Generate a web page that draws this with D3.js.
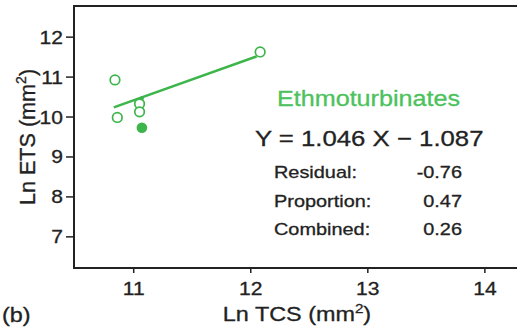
<!DOCTYPE html>
<html>
<head>
<meta charset="utf-8">
<script src="https://cdn.jsdelivr.net/npm/d3@7"></script>
<style>
  body { margin: 0; background: #fff; }
  svg { display: block; font-family: "Liberation Sans", Arial, sans-serif; }
</style>
</head>
<body>
<svg id="chart" width="517" height="327"></svg>
<script>
// data
const openX = [10.84, 10.86, 11.05, 11.05, 12.08];
const openY = [10.93, 9.99, 10.33, 10.13, 11.63];
const filledX = [11.07];
const filledY = [9.73];
const tinyX = [11.07];
const tinyY = [10.47];
const slope = 1.046, intercept = -1.087;
const fitRange = [10.83, 12.05];
const xTicks = [11, 12, 13, 14];
const yTicks = [7, 8, 9, 10, 11, 12];
const statLabels = ["Residual:", "Proportion:", "Combined:"];
const statValues = ["-0.76", "0.47", "0.26"];

const green = "#3cb54a";
const ink = "#222";
const sx = 1.17; // text in the picture is a bit wide

const svg = d3.select("#chart");
const x = d3.scaleLinear().domain([10.49, 14.3]).range([74, 520]);
const y = d3.scaleLinear().domain([6.22, 12.78]).range([268, 6]);

// little helper: text with horizontal stretch
function txt(g, px, py, s, size, anchor, fill) {
  return g.append("text")
    .attr("transform", "translate(" + px + "," + py + ") scale(" + sx + ",1)")
    .attr("text-anchor", anchor || "start")
    .attr("font-size", size)
    .attr("fill", fill || ink)
    .attr("stroke", fill || ink).attr("stroke-width", 0.3)
    .text(s);
}

// frame
svg.append("rect")
  .attr("x", x(10.49)).attr("y", y(12.78))
  .attr("width", x(14.3) - x(10.49)).attr("height", y(6.22) - y(12.78))
  .attr("fill", "none").attr("stroke", ink).attr("stroke-width", 2);

// y axis ticks
const gy = svg.append("g");
yTicks.forEach(t => {
  gy.append("line").attr("x1", x(10.49) - 8).attr("x2", x(10.49))
    .attr("y1", y(t)).attr("y2", y(t)).attr("stroke", ink).attr("stroke-width", 1.5);
  txt(gy, x(10.49) - 11, y(t) + 6.5, t, 18, "end");
});

// x axis ticks
const gx = svg.append("g");
xTicks.forEach(t => {
  gx.append("line").attr("x1", x(t)).attr("x2", x(t))
    .attr("y1", y(6.22)).attr("y2", y(6.22) + 5).attr("stroke", ink).attr("stroke-width", 1.5);
  txt(gx, x(t), 295, t, 18, "middle");
});

// axis titles
const xl = txt(svg, 297, 321, "", 20, "middle");
xl.append("tspan").text("Ln TCS (mm");
xl.append("tspan").attr("font-size", 13).attr("dy", -8).text("2");
xl.append("tspan").attr("dy", 8).text(")");

const yl = svg.append("text")
  .attr("transform", "translate(35,137) rotate(-90) scale(1.08,1.12)")
  .attr("text-anchor", "middle").attr("font-size", 20).attr("fill", ink)
  .attr("stroke", ink).attr("stroke-width", 0.3);
yl.append("tspan").text("Ln ETS (mm");
yl.append("tspan").attr("font-size", 13).attr("dy", -8).text("2");
yl.append("tspan").attr("dy", 8).text(")");

txt(svg, 2, 322, "(b)", 20, "start");

// fit line
svg.append("line")
  .attr("x1", x(fitRange[0])).attr("y1", y(slope * fitRange[0] + intercept))
  .attr("x2", x(fitRange[1])).attr("y2", y(slope * fitRange[1] + intercept))
  .attr("stroke", green).attr("stroke-width", 2.6);

// points
svg.append("g").selectAll("circle")
  .data(openX.map((d, i) => [d, openY[i]]))
  .enter().append("circle")
  .attr("cx", d => x(d[0])).attr("cy", d => y(d[1])).attr("r", 4.8)
  .attr("fill", "#fff").attr("stroke", green).attr("stroke-width", 1.7);

svg.append("g").selectAll("circle")
  .data(filledX.map((d, i) => [d, filledY[i]]))
  .enter().append("circle")
  .attr("cx", d => x(d[0])).attr("cy", d => y(d[1])).attr("r", 5.3)
  .attr("fill", green);

svg.append("g").selectAll("circle")
  .data(tinyX.map((d, i) => [d, tinyY[i]]))
  .enter().append("circle")
  .attr("cx", d => x(d[0])).attr("cy", d => y(d[1])).attr("r", 2)
  .attr("fill", green);

// annotation
txt(svg, 277, 106, "Ethmoturbinates", 21.5, "start", "#4cc25c");
txt(svg, 255, 146, "Y = 1.046 X \u2212  1.087", 22, "start");
statLabels.forEach((s, i) => {
  txt(svg, 274, 178 + i * 28.5, s, 17, "start");
  txt(svg, 462, 178 + i * 28.5, statValues[i], 17, "end");
});
</script>
</body>
</html>
